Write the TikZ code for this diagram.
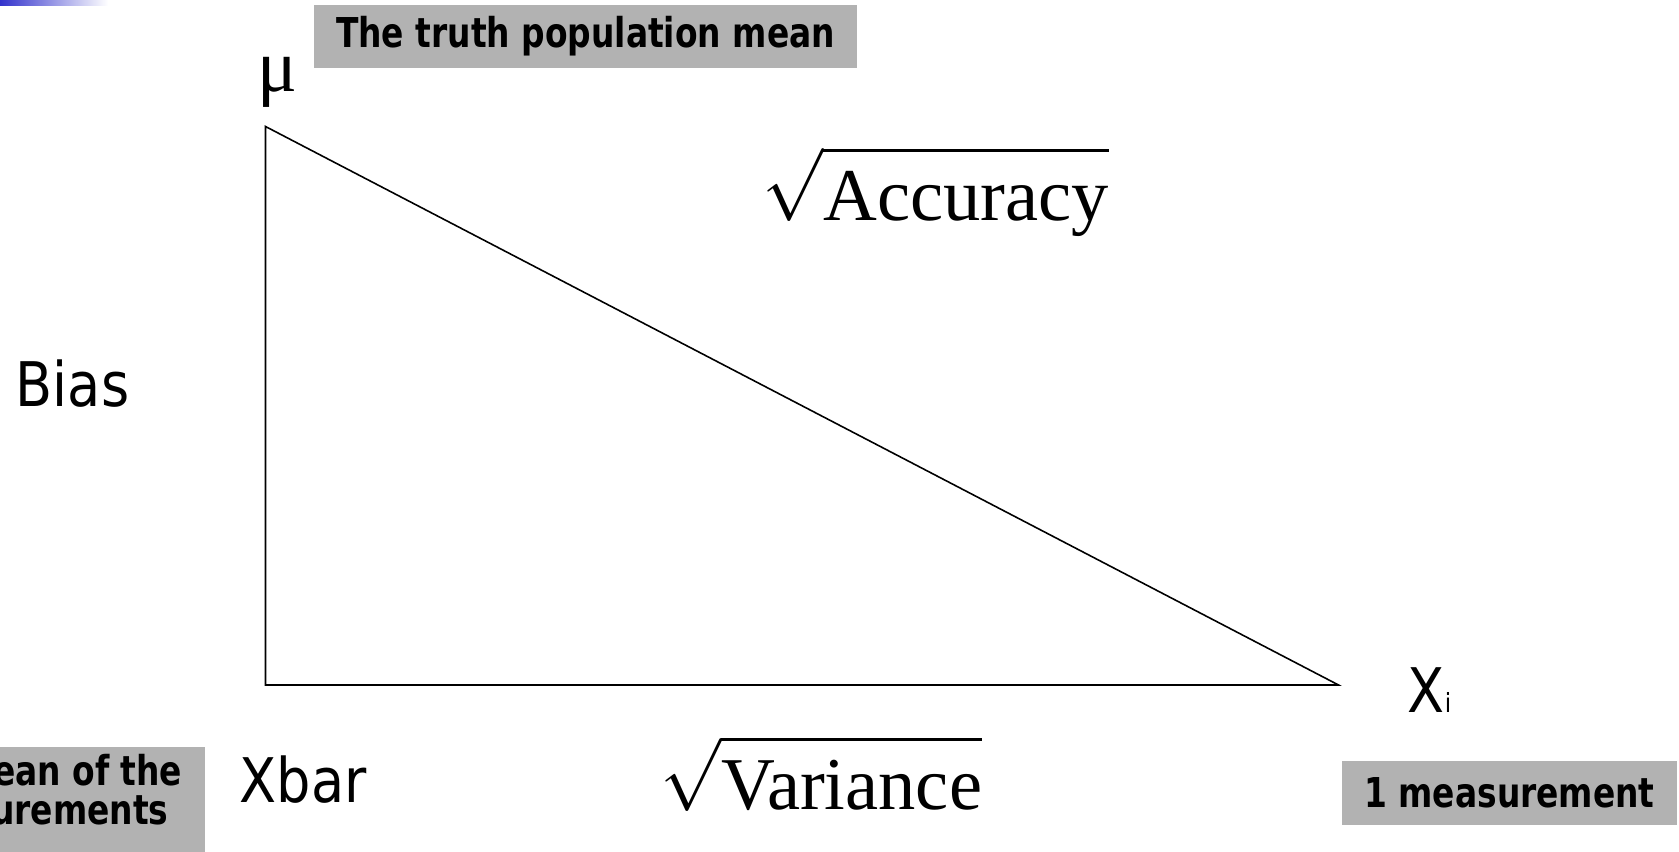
\documentclass[tikz,border=0pt]{standalone}
\usepackage{fontspec}
\setmainfont{Liberation Serif}
\newfontfamily\labelsans[FakeStretch=0.88]{DejaVu Sans}
\newfontfamily\boxsans[FakeStretch=0.8]{DejaVu Sans}
\usetikzlibrary{positioning}
\definecolor{boxgray}{RGB}{178,178,178}
\definecolor{barblue}{RGB}{51,51,204}

\begin{document}
\begin{tikzpicture}[
  graybox/.style={fill=boxgray,inner sep=0pt,minimum height=0.63cm,font=\boxsans\bfseries\fontsize{11.7}{11.1}\selectfont},
  sanslabel/.style={inner sep=0pt,font=\labelsans\fontsize{17.5}{21}\selectfont},
  seriflabel/.style={inner sep=0pt,font=\fontsize{21.2}{25}\selectfont}]
\useasboundingbox (0,0) rectangle (16.79,8.52);
\clip (0,0) rectangle (16.79,8.52);
% corner bar
\shade[left color=barblue,right color=white] (0,8.46) rectangle (1.08,8.52);
% triangle
\coordinate (mu) at (2.655,7.255);
\coordinate (xbar) at (2.655,1.67);
\coordinate (xi) at (13.385,1.67);
\draw[line width=0.45pt] (mu)--(xbar)--(xi)--cycle;
% labels
\node[seriflabel,anchor=base] (mulab) at (2.775,7.60) {μ};
\node[sanslabel,anchor=base west] (bias) at (0.15,4.45) {Bias};
\node[sanslabel,anchor=base west] (xbarlab) at (2.39,0.49) {Xbar};
\node[sanslabel,anchor=base west] (xilab) at (14.07,1.39) {X{\fontsize{7.5}{9}\selectfont i}};
\node[seriflabel,anchor=base west] (acc) at (7.62,6.31) {$\sqrt{\rule{0pt}{0.9em}\smash{\mbox{Accuracy}}}$};
\node[seriflabel,anchor=base west] (var) at (6.60,0.42) {$\sqrt{\rule{0pt}{0.9em}\mbox{Variance}}$};
% gray boxes
\node[graybox,minimum width=5.43cm] (truth) at (5.855,8.155) {The truth population mean};
\node[graybox,minimum width=3.35cm,minimum height=0.64cm] (one) at (15.095,0.59) {1 measurement};
\node[graybox,inner xsep=0.23cm,inner ysep=0.08cm,text depth=0.3cm,align=center,anchor=north east] (avg) at (2.06,1.06) {The mean of the\\measurements};
\end{tikzpicture}
\end{document}
